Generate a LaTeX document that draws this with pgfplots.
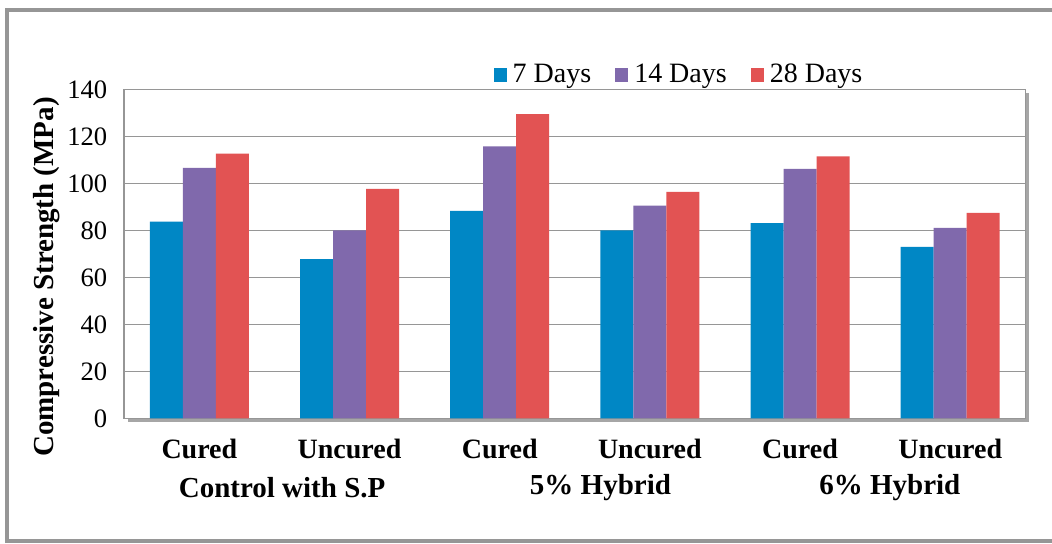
\documentclass[border=0pt]{standalone}
\usepackage{pgfplots}
\pgfplotsset{compat=1.18}
\usepackage{fontspec}
\setmainfont{Liberation Serif}
\definecolor{cblue}{RGB}{0,135,197}
\definecolor{cpurple}{RGB}{128,105,172}
\definecolor{cred}{RGB}{226,83,83}
\definecolor{cframe}{RGB}{150,150,150}
\definecolor{cgrid}{RGB}{150,150,150}
\begin{document}
\begin{tikzpicture}
\useasboundingbox (-62.15pt,-62.35pt) rectangle (463.85pt,209.15pt);
\draw[line width=2pt, cframe] (-58.65pt,-61.5pt) rectangle (480pt,204.3pt);
\fill[black!35] (2pt,-2pt) rectangle (452.5pt,162.5pt);
\begin{axis}[
  at={(0pt,0pt)}, anchor=south west,
  scale only axis, width=450.5pt, height=164.5pt,
  clip=false,
  ybar=0pt, bar width=16.5pt,
  xmin=-0.5, xmax=5.5, ymin=0, ymax=140,
  xtick={0,1,2,3,4,5},
  xticklabels={Cured,Uncured,Cured,Uncured,Cured,Uncured},
  ytick={0,20,...,140},
  /pgf/number format/assume math mode=true,
  xticklabel style={font=\bfseries\fontsize{14}{14}\selectfont, yshift=-7pt},
  yticklabel style={font=\fontsize{13.3}{14}\selectfont, xshift=-5pt},
  major tick length=0pt,
  ymajorgrids, grid style={cgrid, line width=0.6pt},
  axis line style={cgrid, line width=0.8pt},
  axis background/.style={fill=white},
  legend style={at={(rel axis cs:0.6168,1.0435)}, anchor=center, draw=none, fill=none,
    font=\fontsize{14}{14}\selectfont, legend columns=3,
    /tikz/every odd column/.append style={column sep=1pt},
    /tikz/every even column/.append style={column sep=10pt}},
  legend image code/.code={\fill[#1] (0pt,-3.5pt) rectangle (6.5pt,3.5pt);},
]
\addplot[fill=cblue, draw=none] coordinates {(0,83.7) (1,67.7) (2,88.3) (3,80.0) (4,83.1) (5,72.9)};
\addplot[fill=cpurple, draw=none] coordinates {(0,106.6) (1,80.0) (2,115.7) (3,90.5) (4,106.1) (5,81.0)};
\addplot[fill=cred, draw=none] coordinates {(0,112.6) (1,97.6) (2,129.4) (3,96.4) (4,111.5) (5,87.4)};
\legend{7 Days,14 Days,28 Days}
\node[font=\bfseries\fontsize{14.5}{15}\selectfont] at (axis cs:0.551,0) [yshift=-34.85pt] {Control with S.P};
\node[font=\bfseries\fontsize{14.5}{15}\selectfont] at (axis cs:2.671,0) [yshift=-34.85pt] {5\% Hybrid};
\node[font=\bfseries\fontsize{14.5}{15}\selectfont] at (axis cs:4.598,0) [yshift=-34.85pt] {6\% Hybrid};
\end{axis}
\node[rotate=90, font=\bfseries\fontsize{14.5}{15}\selectfont] at (-38.65pt,70.65pt) {Compressive Strength (MPa)};
\end{tikzpicture}
\end{document}
